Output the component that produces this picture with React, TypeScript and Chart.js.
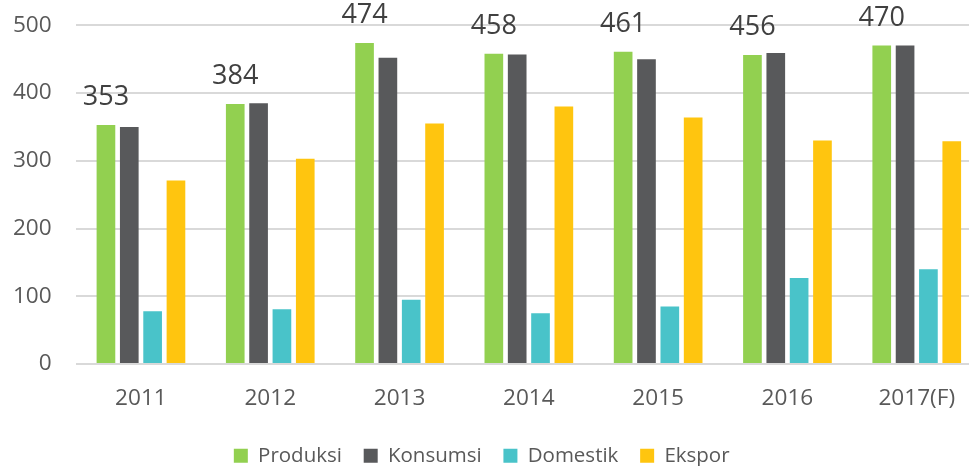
import React, { useEffect, useRef } from "react";
import { Chart, registerables } from "chart.js";

Chart.register(...registerables);

const categories = ["2011", "2012", "2013", "2014", "2015", "2016", "2017(F)"];
const produksi = [353, 384, 474, 458, 461, 456, 470];
const konsumsi = [350, 385, 452, 457, 450, 459, 470];
const domestik = [78, 81, 95, 75, 85, 127, 140];
const ekspor = [271, 303, 355, 380, 364, 330, 329];
const seriesNames = ["Produksi", "Konsumsi", "Domestik", "Ekspor"];
const seriesColors = ["#92D050", "#58595B", "#49C3C9", "#FFC50F"];
const yMax = 500;
const yStep = 100;

const FONT = "'Open Sans', sans-serif";

const labelPlugin = {
  id: "produksiLabels",
  afterDatasetsDraw(chart: any) {
    const ctx = chart.ctx;
    const meta = chart.getDatasetMeta(0);
    ctx.save();
    ctx.font = `27px ${FONT}`;
    ctx.fillStyle = "#404040";
    ctx.textAlign = "center";
    ctx.textBaseline = "alphabetic";
    meta.data.forEach((bar: any, i: number) => {
      ctx.fillText(String(produksi[i]), bar.x, bar.y - 20);
    });
    ctx.restore();
  },
};

const legendShift = {
  id: "legendShift",
  afterLayout(chart: any) {
    const lg = chart.legend;
    if (lg) {
      lg.left -= 9;
      lg.right -= 9;
    }
  },
};

export default function App() {
  const ref = useRef<HTMLCanvasElement | null>(null);

  useEffect(() => {
    if (!ref.current) return;
    const data = [produksi, konsumsi, domestik, ekspor];
    const chart = new Chart(ref.current, {
      type: "bar",
      data: {
        labels: categories,
        datasets: data.map((d, i) => ({
          label: seriesNames[i],
          data: d,
          backgroundColor: seriesColors[i],
          borderWidth: 0,
          categoryPercentage: 0.722,
          barPercentage: 0.8,
        })),
      },
      options: {
        animation: false,
        responsive: false,
        devicePixelRatio: 1,
        layout: { padding: { left: 0, right: 8.6, top: 25.3, bottom: 0 } },
        font: { family: FONT },
        plugins: {
          tooltip: { enabled: false },
          legend: {
            position: "bottom",
            labels: {
              font: { family: FONT, size: 20.5 },
              color: "#595959",
              boxWidth: 14,
              boxHeight: 14,
              padding: 21.75,
            },
          },
        },
        scales: {
          x: {
            grid: { display: false, drawTicks: false },
            border: { display: false },
            ticks: {
              font: { family: FONT, size: 22.6 },
              color: "#595959",
              padding: 21,
              maxRotation: 0,
              autoSkip: false,
            },
            afterFit(scale: any) {
              scale.height = 59.75;
            },
          },
          y: {
            min: 0,
            max: yMax,
            grid: { color: "#D9D9D9", lineWidth: 2, drawTicks: false },
            border: { display: false },
            ticks: {
              stepSize: yStep,
              font: { family: FONT, size: 22.6 },
              color: "#595959",
              padding: 24.6,
            },
            afterFit(scale: any) {
              scale.width = 76.3;
              scale.paddingTop = 0;
              scale.paddingBottom = 0;
            },
          },
        },
      } as any,
      plugins: [labelPlugin, legendShift],
    });
    return () => chart.destroy();
  }, []);

  return (
    <div
      style={{
        position: "fixed",
        left: 0,
        top: 0,
        width: 969,
        height: 466,
        overflow: "hidden",
        background: "#ffffff",
      }}
    >
      <canvas ref={ref} width={990} height={476} style={{ display: "block" }} />
    </div>
  );
}
